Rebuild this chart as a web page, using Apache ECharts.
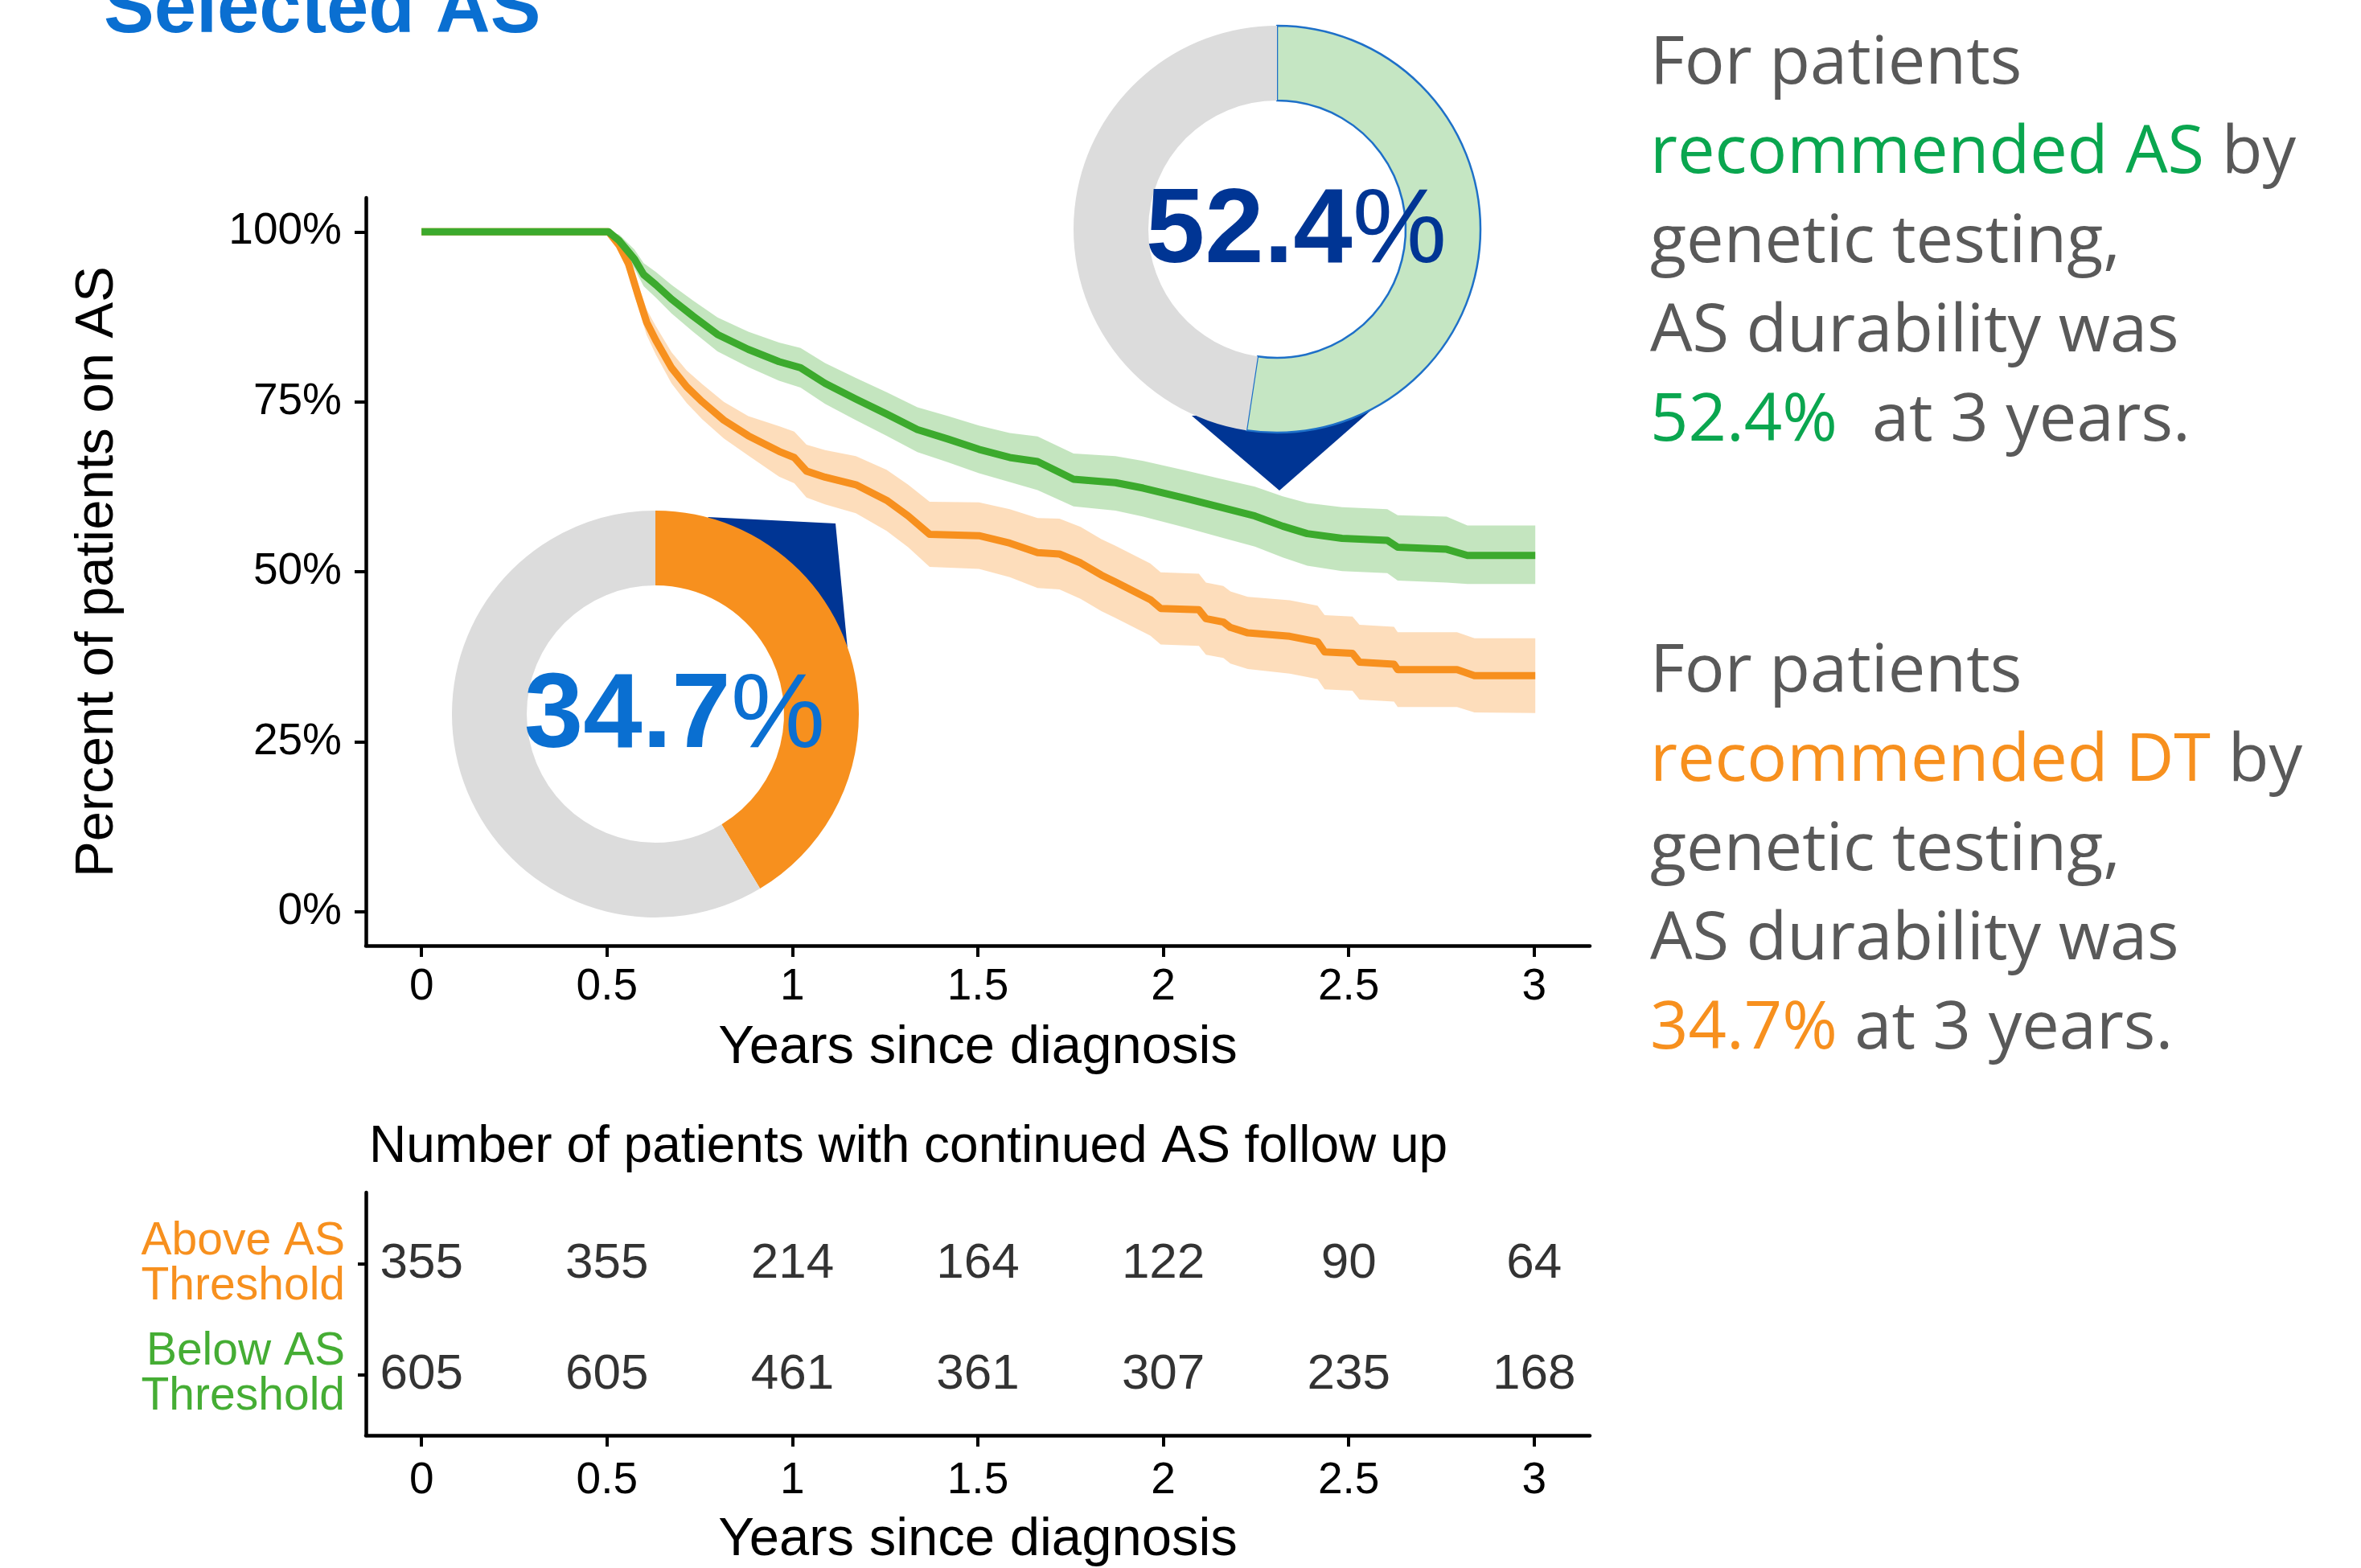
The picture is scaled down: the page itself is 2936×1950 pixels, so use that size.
<!DOCTYPE html>
<html>
<head>
<meta charset="utf-8">
<title>AS durability by genetic testing</title>
<script src="https://cdn.jsdelivr.net/npm/echarts@6/dist/echarts.min.js"></script>
<style>
  html, body { margin: 0; padding: 0; background: #fff; }
  #chart { width: 2936px; height: 1950px; }
</style>
</head>
<body>
<div id="chart"></div>
<script>
// KM estimates: years since diagnosis, % still on AS
var greenTime = [0, 0.504, 0.533, 0.574, 0.599, 0.632, 0.674, 0.732, 0.798, 0.881, 0.964, 1.022, 1.088, 1.171, 1.254, 1.337, 1.420, 1.503, 1.586, 1.661, 1.758, 1.871, 1.946, 2.059, 2.153, 2.247, 2.322, 2.388, 2.482, 2.604, 2.632, 2.764, 2.820, 3.003];
var greenSurv = [100, 100, 98.7, 96.0, 93.7, 92.2, 90.1, 87.6, 84.9, 82.7, 80.9, 80.0, 77.7, 75.4, 73.2, 70.9, 69.5, 68.0, 66.8, 66.2, 63.6, 63.1, 62.3, 60.8, 59.5, 58.2, 56.7, 55.6, 54.9, 54.6, 53.6, 53.3, 52.4, 52.4];
var greenLow  = [100, 100, 97.8, 94.6, 92.0, 90.3, 88.0, 85.3, 82.4, 80.1, 78.1, 77.1, 74.7, 72.3, 70.0, 67.6, 66.1, 64.5, 63.2, 62.0, 59.6, 59.0, 58.1, 56.5, 55.1, 53.7, 52.1, 50.9, 50.1, 49.8, 48.7, 48.4, 48.2, 48.2];
var greenHigh = [100, 100, 99.6, 97.4, 95.4, 94.1, 92.2, 89.9, 87.4, 85.3, 83.7, 82.9, 80.7, 78.5, 76.4, 74.2, 72.9, 71.5, 70.4, 69.9, 67.4, 67.0, 66.3, 64.9, 63.7, 62.5, 61.1, 60.1, 59.5, 59.2, 58.3, 58.1, 56.8, 56.8];

var orangeTime = [0, 0.504, 0.533, 0.558, 0.583, 0.607, 0.632, 0.674, 0.715, 0.757, 0.815, 0.881, 0.964, 1.005, 1.038, 1.088, 1.171, 1.254, 1.312, 1.370, 1.503, 1.586, 1.661, 1.720, 1.777, 1.833, 1.871, 1.965, 1.993, 2.096, 2.115, 2.162, 2.181, 2.228, 2.341, 2.416, 2.435, 2.510, 2.529, 2.622, 2.632, 2.792, 2.839, 3.003];
var orangeSurv = [100, 100, 98.0, 95.3, 90.8, 86.7, 84.0, 80.0, 77.2, 75.0, 72.3, 70.0, 67.7, 66.8, 64.8, 63.9, 62.8, 60.5, 58.2, 55.5, 55.3, 54.2, 52.8, 52.6, 51.3, 49.5, 48.5, 45.9, 44.6, 44.4, 43.1, 42.6, 41.8, 41.0, 40.5, 39.7, 38.2, 38.0, 36.7, 36.4, 35.6, 35.6, 34.7, 34.7];
var orangeLow  = [100, 100, 97.0, 93.9, 89.1, 84.8, 81.9, 77.7, 74.8, 72.4, 69.6, 67.1, 64.0, 63.0, 60.9, 59.9, 58.6, 56.0, 53.6, 50.7, 50.4, 49.2, 47.6, 47.4, 46.0, 44.2, 43.2, 40.6, 39.3, 39.1, 37.8, 37.3, 36.5, 35.7, 35.0, 34.2, 32.7, 32.5, 31.2, 30.9, 30.1, 30.1, 29.3, 29.2];
var orangeHigh = [100, 100, 99.0, 96.7, 92.5, 88.6, 86.1, 82.3, 79.6, 77.6, 75.0, 72.9, 71.4, 70.6, 68.7, 67.9, 67.0, 65.0, 62.8, 60.3, 60.2, 59.2, 57.9, 57.8, 56.6, 54.8, 53.8, 51.2, 49.9, 49.7, 48.4, 47.9, 47.1, 46.3, 45.8, 45.0, 43.6, 43.4, 42.2, 41.9, 41.1, 41.1, 40.2, 40.2];

// number at risk table
var riskTimes = [0, 0.5, 1, 1.5, 2, 2.5, 3];
var riskAbove = [355, 355, 214, 164, 122, 90, 64];
var riskBelow = [605, 605, 461, 361, 307, 235, 168];

var xTicks = [0, 0.5, 1, 1.5, 2, 2.5, 3];
var yTicks = [0, 25, 50, 75, 100];

// donuts: arc shares as drawn in the picture, and the printed figure
var donutBelow = [52.4, 47.6];
var donutBelowText = '52.4';
var donutAbove = [41.4, 58.6];
var donutAboveText = '34.7';

var GREEN = '#3CAA2D';
var ORANGE = '#F7901E';
var FONT = '"Liberation Sans", Arial, sans-serif';

function pairs(t, v) {
    return t.map(function (x, i) { return [x, v[i]]; });
}

// confidence band as one polygon, upper edge forward then lower edge back
function bandSeries(name, t, lo, hi, fill) {
    return {
        name: name, type: 'custom', silent: true, z: 1,
        data: t.map(function (x, i) { return [x, lo[i], hi[i]]; }),
        encode: { x: 0, y: [1, 2] },
        renderItem: function (params, api) {
            if (params.dataIndex !== 0) return;
            var pts = [];
            for (var i = 0; i < t.length; i++) pts.push(api.coord([t[i], hi[i]]));
            for (var j = t.length - 1; j >= 0; j--) pts.push(api.coord([t[j], lo[j]]));
            return { type: 'polygon', shape: { points: pts }, style: { fill: fill } };
        }
    };
}

function donut(center, values, text, color, textColor, border) {
    return {
        type: 'pie', center: center, radius: [160, 253], startAngle: 90,
        silent: true, z: 10, labelLine: { show: false },
        emphasis: { disabled: true },
        data: [
            {
                value: values[0],
                itemStyle: { color: color, borderColor: border || color, borderWidth: border ? 2.5 : 0 },
                label: {
                    show: true, position: 'center',
                    formatter: '{d|' + text + '}{p|%}',
                    padding: [10, 0, 0, 48],
                    rich: {
                        d: { fontFamily: FONT, fontSize: 132, fontWeight: 'bold', color: textColor },
                        p: { fontFamily: FONT, fontSize: 132, fontWeight: 'normal', color: textColor }
                    }
                }
            },
            { value: values[1], itemStyle: { color: '#DCDCDC', borderWidth: 0 }, label: { show: false } }
        ]
    };
}

function sideText(highlight, value, gap) {
    return '{g|For patients}\n{c|recommended ' + highlight + '}{g| by}\n{g|genetic testing,}\n' +
        '{g|AS durability was}\n{c|' + value + '}{g|' + gap + 'at 3 years.}';
}
function sideRich(color) {
    var base = { fontFamily: '"Open Sans", sans-serif', fontSize: 83, fontWeight: 'normal', lineHeight: 111 };
    return {
        g: Object.assign({ color: '#595959' }, base),
        c: Object.assign({ color: color }, base)
    };
}

var axisBlack = { show: true, onZero: false, lineStyle: { color: '#000', width: 4.5 } };
var tickBlack = { color: '#000', width: 4 };

var option = {
    animation: false,
    backgroundColor: '#fff',
    title: [
        {
            text: 'Selected AS', left: 124, top: -38,
            textStyle: { fontFamily: FONT, fontSize: 94, fontWeight: 'bold', color: '#0A6FD1' }
        },
        {
            text: 'Number of patients with continued AS follow up', left: 454, top: 1390,
            textStyle: { fontFamily: FONT, fontSize: 64, fontWeight: 'normal', color: '#000' }
        },
        {
            text: sideText('AS', donutBelowText + '%', '  '), left: 2047, top: 20,
            textStyle: { fontWeight: 'normal', rich: sideRich('#0AA64F') }
        },
        {
            text: sideText('DT', donutAboveText + '%', ' '), left: 2047, top: 776,
            textStyle: { fontWeight: 'normal', rich: sideRich(ORANGE) }
        }
    ],
    grid: [
        { left: 455, right: 959, top: 246, bottom: 774 },
        { left: 455, right: 959, top: 1483, bottom: 149 }
    ],
    xAxis: [
        {
            type: 'value', gridIndex: 0, min: -0.15, max: 3.15,
            axisLine: axisBlack,
            axisTick: { show: true, length: 14, customValues: xTicks, lineStyle: tickBlack },
            axisLabel: { customValues: xTicks, fontFamily: FONT, fontSize: 55, color: '#000', margin: 24 },
            splitLine: { show: false },
            name: 'Years since diagnosis', nameLocation: 'middle', nameGap: 94,
            nameTextStyle: { fontFamily: FONT, fontSize: 67, color: '#000' }
        },
        {
            type: 'value', gridIndex: 1, min: -0.15, max: 3.15,
            axisLine: axisBlack,
            axisTick: { show: true, length: 14, customValues: xTicks, lineStyle: tickBlack },
            axisLabel: { customValues: xTicks, fontFamily: FONT, fontSize: 55, color: '#000', margin: 29 },
            splitLine: { show: false },
            name: 'Years since diagnosis', nameLocation: 'middle', nameGap: 97,
            nameTextStyle: { fontFamily: FONT, fontSize: 67, color: '#000' }
        }
    ],
    yAxis: [
        {
            type: 'value', gridIndex: 0, min: -5, max: 105,
            axisLine: axisBlack,
            axisTick: { show: true, length: 14, customValues: yTicks, lineStyle: tickBlack },
            axisLabel: {
                customValues: yTicks, formatter: '{value}%',
                fontFamily: FONT, fontSize: 55, color: '#000', margin: 30
            },
            splitLine: { show: false },
            name: 'Percent of patients on AS', nameLocation: 'middle', nameGap: 300,
            nameTextStyle: { fontFamily: FONT, fontSize: 67, color: '#000' }
        },
        {
            type: 'value', gridIndex: 1, min: 0.45, max: 2.65,
            axisLine: axisBlack,
            axisTick: { show: true, length: 10, customValues: [1, 2], lineStyle: tickBlack },
            axisLabel: {
                customValues: [1, 2], margin: 26, align: 'right',
                formatter: function (v) {
                    return v === 2 ? '{o|Above AS}\n{o|Threshold}' : '{g|Below AS}\n{g|Threshold}';
                },
                rich: {
                    o: { fontFamily: FONT, fontSize: 57, lineHeight: 56, color: ORANGE, align: 'right' },
                    g: { fontFamily: FONT, fontSize: 57, lineHeight: 56, color: '#45AD34', align: 'right' }
                }
            },
            splitLine: { show: false }
        }
    ],
    graphic: {
        elements: [
            // pointer tips under the donuts
            { type: 'polygon', z: 1, shape: { points: [[1482, 517], [1704, 511], [1591, 610]] }, style: { fill: '#003594' } },
            { type: 'polygon', z: 1, shape: { points: [[880, 643], [1039, 651], [1054, 807]] }, style: { fill: '#003594' } }
        ]
    },
    series: [
        bandSeries('orange CI', orangeTime, orangeLow, orangeHigh, 'rgba(247,144,30,0.3)'),
        bandSeries('green CI', greenTime, greenLow, greenHigh, 'rgba(60,170,42,0.3)'),
        {
            name: 'Above AS Threshold', type: 'line', data: pairs(orangeTime, orangeSurv),
            symbol: 'none', silent: true, lineStyle: { color: ORANGE, width: 9, join: 'round' }, z: 3
        },
        {
            name: 'Below AS Threshold', type: 'line', data: pairs(greenTime, greenSurv),
            symbol: 'none', silent: true, lineStyle: { color: GREEN, width: 9, join: 'round' }, z: 4
        },
        donut([1588, 285], donutBelow, donutBelowText, '#C5E6C3', '#003594', '#1E70C8'),
        donut([815, 888], donutAbove, donutAboveText, ORANGE, '#0A6FD1'),
        {
            type: 'scatter', xAxisIndex: 1, yAxisIndex: 1, symbolSize: 1, silent: true,
            itemStyle: { color: 'rgba(0,0,0,0)' },
            data: riskTimes.map(function (t, i) { return [t, 2, riskAbove[i]]; })
                .concat(riskTimes.map(function (t, i) { return [t, 1, riskBelow[i]]; })),
            label: {
                show: true, position: 'inside', color: '#000', fontFamily: FONT, fontSize: 62,
                formatter: function (p) { return p.value[2]; }
            }
        }
    ]
};

var chart = echarts.init(document.getElementById('chart'));
chart.setOption(option);
window.addEventListener('resize', function () { chart.resize(); });
</script>
</body>
</html>
